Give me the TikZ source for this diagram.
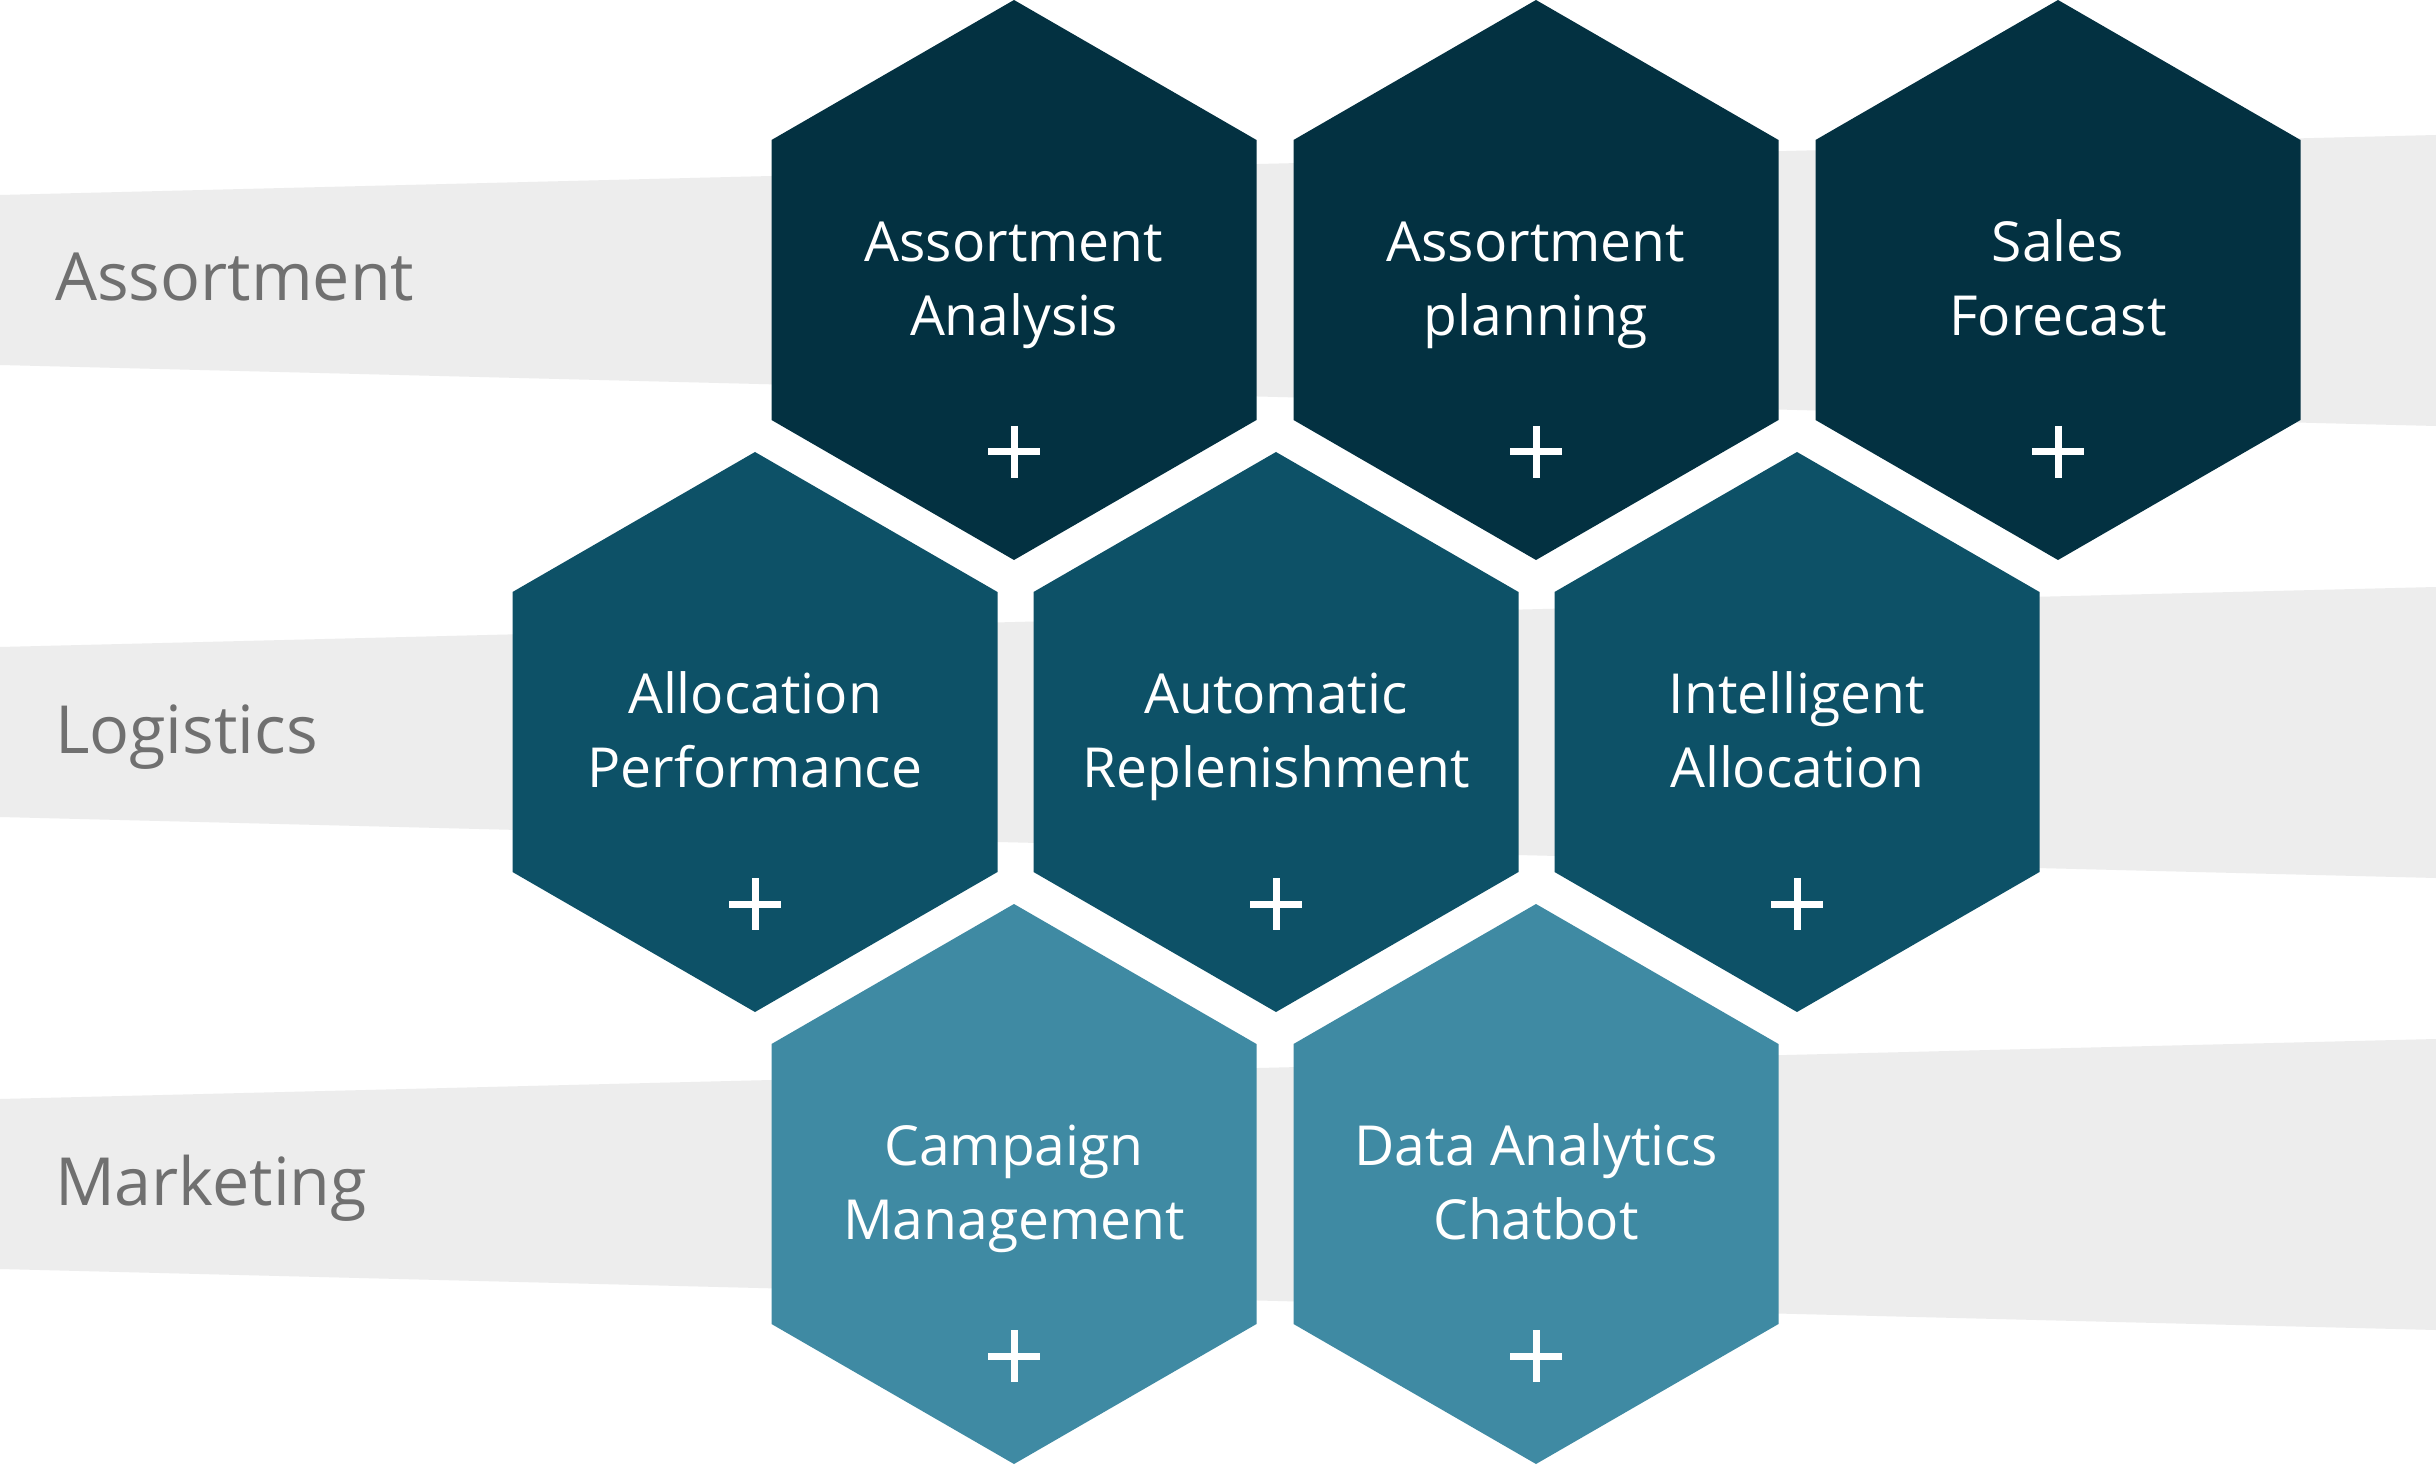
\documentclass[tikz,border=0pt]{standalone}
\usepackage{fontspec}
\setmainfont{Open Sans}
\usetikzlibrary{shapes.geometric,calc}
\definecolor{hexA}{HTML}{033141}
\definecolor{hexB}{HTML}{0D5167}
\definecolor{hexC}{HTML}{3F8AA3}
\definecolor{bandgray}{HTML}{EDEDED}
\definecolor{labelgray}{HTML}{707070}
\newcommand{\twol}[2]{\strut #1\\\strut #2}
\begin{document}
\begin{tikzpicture}[x=0.5pt,y=-0.5pt,
  hexbox/.style={regular polygon, regular polygon sides=6, shape border rotate=30,
    minimum size=280pt, inner sep=0pt, outer sep=0pt, draw=none},
  hextext/.style={text=white, align=center, inner sep=0pt, outer sep=0pt,
    font=\fontsize{27.6pt}{37pt}\selectfont},
  rowlabel/.style={text=labelgray, inner sep=0pt, outer sep=0pt, anchor=base west,
    font=\fontsize{33.2pt}{40pt}\selectfont},
  band/.style={fill=bandgray},
  plusmark/.style={draw=white, line width=3.5pt}]
\useasboundingbox (0,0) rectangle (2436,1465);
\fill[white] (0,0) rectangle (2436,1465);
% bands
\foreach \yy in {280,732,1184}{
  \fill[band] (0,\yy-85) -- (2436,\yy-145) -- (2436,\yy+146) -- (0,\yy+85) -- cycle;
}
% row labels
\node[rowlabel] (lA) at (55,301) {Assortment};
\node[rowlabel] (lL) at (55,753) {Logistics};
\node[rowlabel] (lM) at (55,1205) {Marketing};
% hexagons
\node[hexbox, fill=hexA] (h11) at (1014,280) {};
\node[hexbox, fill=hexA] (h12) at (1536,280) {};
\node[hexbox, fill=hexA] (h13) at (2058,280) {};
\node[hexbox, fill=hexB] (h21) at (755,732) {};
\node[hexbox, fill=hexB] (h22) at (1276,732) {};
\node[hexbox, fill=hexB] (h23) at (1797,732) {};
\node[hexbox, fill=hexC] (h31) at (1014,1184) {};
\node[hexbox, fill=hexC] (h32) at (1536,1184) {};
% texts
\node[hextext] (t11) at ($(h11.center)+(0,4)$) {\twol{Assortment}{Analysis}};
\node[hextext] (t12) at ($(h12.center)+(0,4)$) {\twol{Assortment}{planning}};
\node[hextext] (t13) at ($(h13.center)+(0,4)$) {\twol{Sales}{Forecast}};
\node[hextext] (t21) at ($(h21.center)+(0,4)$) {\twol{Allocation}{Performance}};
\node[hextext] (t22) at ($(h22.center)+(0,4)$) {\twol{Automatic}{Replenishment}};
\node[hextext] (t23) at ($(h23.center)+(0,4)$) {\twol{Intelligent}{Allocation}};
\node[hextext] (t31) at ($(h31.center)+(0,4)$) {\twol{Campaign}{Management}};
\node[hextext] (t32) at ($(h32.center)+(0,4)$) {\twol{Data Analytics}{Chatbot}};
% plus marks
\foreach \h in {h11,h12,h13,h21,h22,h23,h31,h32}{
  \draw[plusmark] ($(\h.center)+(-26,172)$) -- ($(\h.center)+(26,172)$);
  \draw[plusmark] ($(\h.center)+(0,146)$) -- ($(\h.center)+(0,198)$);
}
\end{tikzpicture}
\end{document}
